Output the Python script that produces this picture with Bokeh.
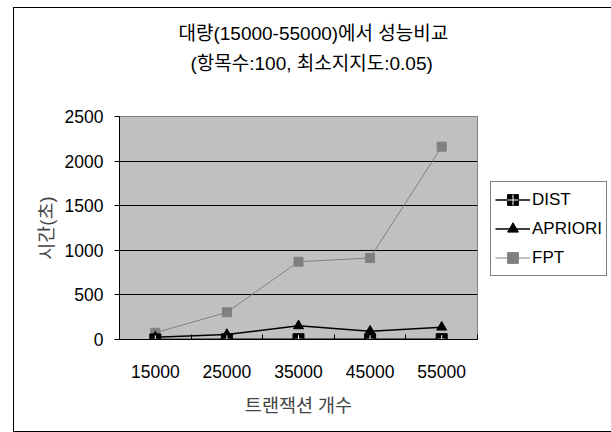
from bokeh.plotting import figure
from bokeh.models import (FixedTicker, Legend, LegendItem, Title, Range1d,
                          ColumnDataSource)
from bokeh.embed import file_html
from bokeh.resources import INLINE

# Transaction counts (categories) and run times in seconds
transactions = ["15000", "25000", "35000", "45000", "55000"]
dist = [1, 2, 3, 3, 4]
apriori = [26, 56, 153, 93, 138]
fpt = [75, 305, 872, 914, 2162]

y_ticks = [0, 500, 1000, 1500, 2000, 2500]

title_lines = ["대량(15000-55000)에서 성능비교", "(항목수:100, 최소지지도:0.05)"]

KR = "Liberation Sans, Noto Sans CJK KR"

# category slots sit at the centres of unit bins
xs = [i + 0.5 for i in range(len(transactions))]
src = ColumnDataSource(dict(x=xs, dist=dist, apriori=apriori, fpt=fpt))

p = figure(frame_width=358, frame_height=223, output_backend="svg",
           toolbar_location=None, title=None,
           x_range=Range1d(0, len(transactions)), y_range=Range1d(0, 2500),
           min_border_left=105, min_border_right=133,
           min_border_top=108, min_border_bottom=92)
# chart area framed by a thin black line, offset into the page
p.margin = (8, 0, 0, 14)
p.styles = {"outline": "1px solid black"}

p.background_fill_color = "#c0c0c0"
p.border_fill_color = "white"
p.outline_line_color = "#808080"
p.outline_line_width = 1

# x axis: labels at bin centres, tick marks on bin edges
p.xaxis.ticker = FixedTicker(ticks=xs, minor_ticks=list(range(len(transactions) + 1)))
p.xaxis.major_label_overrides = {x: t for x, t in zip(xs, transactions)}
p.xaxis.major_tick_line_color = None
p.xaxis.minor_tick_in = 5
p.xaxis.minor_tick_out = 0
p.xaxis.minor_tick_line_color = "black"
p.xaxis.axis_line_color = "black"
p.xaxis.major_label_standoff = 19
p.xaxis.major_label_text_font = KR
p.xaxis.major_label_text_font_size = "17.5px"
p.xaxis.major_label_text_color = "black"
p.xaxis.axis_label = "트랜잭션 개수"
p.xaxis.axis_label_text_font = KR
p.xaxis.axis_label_text_font_size = "18.5px"
p.xaxis.axis_label_text_font_style = "normal"
p.xaxis.axis_label_standoff = 14

p.yaxis.ticker = FixedTicker(ticks=y_ticks, minor_ticks=[])
p.yaxis.major_tick_in = 0
p.yaxis.major_tick_out = 5
p.yaxis.major_tick_line_color = "black"
p.yaxis.axis_line_color = "black"
p.yaxis.major_label_standoff = 11
p.yaxis.major_label_text_font = KR
p.yaxis.major_label_text_font_size = "17.5px"
p.yaxis.major_label_text_color = "black"
p.yaxis.axis_label = "시간(초)"
p.yaxis.axis_label_text_font = KR
p.yaxis.axis_label_text_font_size = "18.5px"
p.yaxis.axis_label_text_font_style = "normal"
p.yaxis.axis_label_standoff = 5

p.xgrid.grid_line_color = None
p.ygrid.ticker = FixedTicker(ticks=y_ticks[1:-1])
p.ygrid.grid_line_color = "black"
p.ygrid.grid_line_width = 1

# series
fl = p.line("x", "fpt", source=src, line_color="#808080", line_width=1)
fm = p.scatter("x", "fpt", source=src, marker="square", size=9,
               fill_color="#808080", line_color="#808080")
al = p.line("x", "apriori", source=src, line_color="black", line_width=1.5)
am = p.scatter("x", "apriori", source=src, marker="triangle", size=10,
               fill_color="black", line_color="black")
dl = p.line("x", "dist", source=src, line_color="black", line_width=1.5)
dm = p.scatter("x", "dist", source=src, marker="square", size=11,
               fill_color="black", line_color="black")
dc = p.scatter("x", "dist", source=src, marker="cross", size=8,
               line_color="white", line_width=1)

legend = Legend(items=[
    LegendItem(label="DIST", renderers=[dl, dm, dc]),
    LegendItem(label="APRIORI", renderers=[al, am]),
    LegendItem(label="FPT", renderers=[fl, fm]),
], location=(13, 63))
legend.border_line_color = "black"
legend.border_line_width = 1
legend.background_fill_color = "white"
legend.background_fill_alpha = 1
legend.padding = 4
legend.margin = 0
legend.spacing = 2
legend.glyph_width = 35
legend.glyph_height = 27
legend.label_height = 27
legend.label_standoff = 2
legend.label_text_font = KR
legend.label_text_font_size = "17px"
legend.label_text_color = "black"
p.add_layout(legend, "right")

# two-line chart title; the lower line keeps a gap above the plot area
line2 = Title(text=title_lines[1], align="left", offset=71, standoff=0,
              padding=dict(left=0, right=0, top=0, bottom=43),
              text_font=KR, text_font_size="19px",
              text_font_style="normal", text_color="black")
line1 = Title(text=title_lines[0], align="left", offset=59, standoff=14,
              text_font=KR, text_font_size="19px",
              text_font_style="normal", text_color="black")
p.add_layout(line2, "above")
p.add_layout(line1, "above")

open("out.html", "w").write(file_html(p, INLINE))
